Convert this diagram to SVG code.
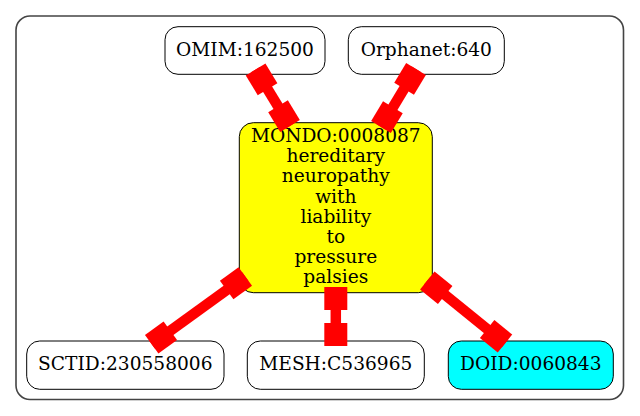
<svg xmlns="http://www.w3.org/2000/svg" width="640" height="416" viewBox="0 0 640 416">
<style>
.node{stroke:#000;stroke-width:1;}
.lbl{font-family:"DejaVu Serif","Liberation Serif",serif;font-size:18.6px;fill:#000;text-anchor:middle;}
.edge{stroke:#ff0000;stroke-width:10.5;fill:none;marker-start:url(#box);marker-end:url(#box);}
</style>
<defs>
<marker id="box" markerUnits="userSpaceOnUse" markerWidth="23" markerHeight="23" viewBox="0 0 23 23" refX="23" refY="11.5" orient="auto-start-reverse" overflow="visible">
<rect x="0" y="0" width="23" height="23" fill="#ff0000"/>
</marker>
</defs>
<rect width="640" height="416" fill="#fff"/>
<rect x="16" y="16" width="607.5" height="383.5" rx="14" fill="#fff" stroke="#444" stroke-width="1.6"/>
<g id="OMIM_162500">
<rect class="node" x="165" y="26.7" width="160" height="47.6" rx="13" fill="#fff"/>
<text class="lbl" x="245" y="55.7">OMIM:162500</text>
</g>
<g id="Orphanet_640">
<rect class="node" x="348.3" y="26.7" width="156" height="47.6" rx="13" fill="#fff"/>
<text class="lbl" x="426.3" y="55.7">Orphanet:640</text>
</g>
<g id="MONDO_0008087">
<rect class="node" x="239.3" y="122.7" width="193" height="170" rx="14" fill="#ffff00"/>
<text class="lbl" x="335.8" y="142.3">MONDO:0008087</text>
<text class="lbl" x="335.8" y="162.4">hereditary</text>
<text class="lbl" x="335.8" y="182.4">neuropathy</text>
<text class="lbl" x="335.8" y="202.5">with</text>
<text class="lbl" x="335.8" y="222.5">liability</text>
<text class="lbl" x="335.8" y="242.6">to</text>
<text class="lbl" x="335.8" y="262.7">pressure</text>
<text class="lbl" x="335.8" y="282.7">palsies</text>
</g>
<g id="SCTID_230558006">
<rect class="node" x="26.7" y="341" width="197.3" height="48.3" rx="13" fill="#fff"/>
<text class="lbl" x="125.3" y="369.5">SCTID:230558006</text>
</g>
<g id="MESH_C536965">
<rect class="node" x="247.3" y="341" width="177" height="48.3" rx="13" fill="#fff"/>
<text class="lbl" x="335.8" y="369.5">MESH:C536965</text>
</g>
<g id="DOID_0060843">
<rect class="node" x="448.3" y="341" width="165" height="48.3" rx="13" fill="#00ffff"/>
<text class="lbl" x="530.8" y="369.5">DOID:0060843</text>
</g>
<g id="edges">
<line class="edge" x1="255.6" y1="69.5" x2="290" y2="126"/>
<line class="edge" x1="416" y1="69" x2="381" y2="127"/>
<line class="edge" x1="245.3" y1="276.5" x2="151.7" y2="344.2"/>
<line class="edge" x1="335.8" y1="287" x2="335.8" y2="346"/>
<line class="edge" x1="427.3" y1="280.5" x2="505" y2="343.5"/>
</g>
</svg>
